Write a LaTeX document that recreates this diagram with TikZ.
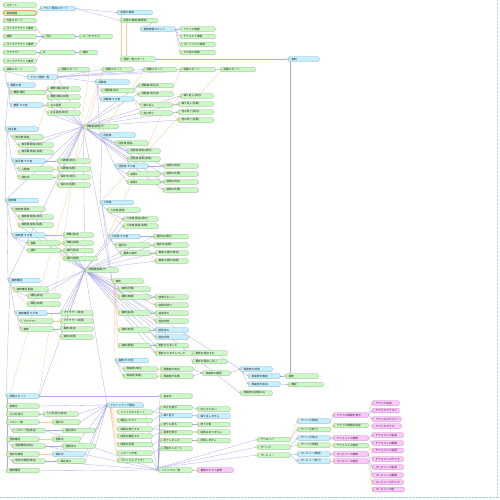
\documentclass[tikz,border=0pt]{standalone}
\usepackage{fontspec}
\newfontfamily\jp{Noto Sans CJK JP}
\usetikzlibrary{arrows.meta,shadows}
\definecolor{gF}{HTML}{CCF7C6}
\definecolor{gD}{HTML}{8DBF88}
\definecolor{cF}{HTML}{C6F0FF}
\definecolor{cD}{HTML}{7DB9D2}
\definecolor{pF}{HTML}{FFC6FF}
\definecolor{pD}{HTML}{CC82CC}
\definecolor{oD}{HTML}{EE8A33}
\definecolor{eB}{HTML}{9C9CF4}
\definecolor{eO}{HTML}{FFC48E}
\definecolor{dotY}{HTML}{E6C21E}
\pgfdeclarelayer{bg}
\pgfdeclarelayer{paper}
\pgfsetlayers{paper,bg,main}
\tikzset{
 box/.style={rectangle, rounded corners=1.2pt, minimum height=4.6pt, inner sep=0pt, line width=0.3pt,
   drop shadow={shadow xshift=0.45pt,shadow yshift=-0.45pt,opacity=0.22}},
 ng/.style={box, fill=gF, draw=gD},
 nc/.style={box, fill=cF, draw=cD},
 np/.style={box, fill=pF, draw=pD},
 no/.style={box, fill=gF, draw=oD, line width=0.7pt},
 lbl/.style={inner sep=0pt, font=\jp\fontsize{2.7}{3}\selectfont, text=black!85},
 eb/.style={draw=eB, draw opacity=0.85, line width=0.3pt, -{Stealth[length=1.6pt,width=1.3pt]}},
 eo/.style={draw=eO, draw opacity=0.9, line width=0.3pt, -{Stealth[length=1.6pt,width=1.3pt]}},
}
\newcommand\nd[6]{%
 \node[#5, minimum width=#4pt, anchor=west] (#1) at (#2,#3) {};%
 \node[lbl, anchor=west] (#1t) at ([xshift=3.3pt]#1.west) {#6};%
 \fill[dotY] ([xshift=1.6pt]#1.west) circle (0.75pt);%
}
\newcommand\ed[3][eb]{\draw[#1] (#2.east) -- (#3.west);}
\newcommand\tr[3][eb]{\draw[#1] ([xshift=2pt]#2.south west) -- (#3.west);}
\newcommand\grp[2]{%
 \tr{#10}{#11}\tr{#10}{#14}\tr{#11}{#12}\tr[eo]{#11}{#13}%
 \ed{#14}{#15}\tr{#14}{#16}\tr{#14}{#18}\ed[eo]{#16}{#17}\ed{#18}{#19}\ed[eo]{#18}{#110}%
 \foreach \r in {2,3,5,7,9,10}{\draw[eb] (#2.west) -- (#1\r.west);}%
}
\begin{document}
\begin{tikzpicture}[x=1pt,y=-1pt]
\useasboundingbox (0,0) rectangle (500,500);
\begin{pgfonlayer}{paper}
\fill[white] (0,0) rectangle (500,500);
\draw[densely dotted, line width=0.4pt, cD!70] (0,497.5) -- (500,497.5);
\draw[densely dotted, line width=0.4pt, cD!50] (497.5,0) -- (497.5,497.5);
\end{pgfonlayer}
% ---------- top ----------
\nd{a1}{3}{5}{33}{ng}{スタート}
\nd{a2}{3}{13}{33}{no}{初期画面}
\nd{a3}{3}{20.5}{33}{ng}{可能スタート}
\nd{a4}{3}{28.5}{33}{ng}{バックグラウンド接続}
\nd{a5}{3}{36.5}{33}{ng}{接続}
\nd{a6}{3}{44.5}{33}{ng}{バックグラウンド接続}
\nd{a7}{3}{52.5}{33}{ng}{ブラウザー}
\nd{a8}{3}{61}{33}{ng}{バックグラウンド接続}
\nd{b1}{40}{8.5}{35}{nc}{テスト環境スタート}
\nd{b2}{43}{36.5}{32}{ng}{回入}
\nd{b3}{79}{36.5}{33}{ng}{ループ(テスト)}
\nd{b4}{40}{52.5}{35}{ng}{B}
\nd{b5}{79}{52.5}{18}{ng}{接続}
\nd{c1}{117}{12.5}{35}{nc}{処理の接続}
\nd{c2}{120}{20.5}{37}{ng}{処理の接続(接続時)}
\nd{c3}{140}{29}{35}{nc}{接続情報のセット}
\nd{c4}{180}{29}{35}{ng}{アプリの情報}
\nd{c5}{180}{36.5}{35}{ng}{デフォルト情報}
\nd{c6}{180}{44.5}{35}{ng}{プレイリスト情報}
\nd{c7}{180}{52.5}{35}{ng}{その他の情報}
\nd{c8}{120}{59}{35}{ng}{登録一覧スタート}
\nd{c9}{288}{59}{31}{nc}{接続}
\nd{ts0}{3}{69}{33}{ng}{試験スタート}
\nd{ts1}{58}{69.5}{31}{ng}{試験スタート}
\nd{ts2}{102}{69.5}{31}{ng}{試験スタート}
\nd{ts3}{143}{69.5}{33}{ng}{試験スタート}
\nd{ts4}{180}{69.5}{35}{ng}{試験スタート}
\nd{ts5}{220}{69.5}{35}{ng}{試験スタート}
\nd{m0}{27}{77}{30}{nc}{テスト情報一覧}
% ---------- group A ----------
\nd{A0}{95}{82}{34}{nc}{試験後}
\nd{A1}{101}{90.5}{33}{ng}{試験後 成功}
\nd{A2}{138}{85.5}{35}{ng}{試験後 成功(A)}
\nd{A3}{138}{94}{35}{ng}{試験後 成功(B)}
\nd{A4}{100}{99}{33}{nc}{試験後 その他}
\nd{A5}{140}{105}{32}{ng}{繰り返し}
\nd{A6}{140}{113}{32}{ng}{他の終了}
\nd{A7}{180}{96}{33}{ng}{繰り返し(成功)}
\nd{A8}{178}{104}{35}{ng}{繰り返し(失敗)}
\nd{A9}{178}{112}{35}{ng}{他の終了(成功)}
\nd{A10}{178}{120}{35}{ng}{他の終了(失敗)}
% ---------- group B ----------
\nd{B0}{7}{85}{28}{nc}{概要の表}
\nd{B1}{10}{92.5}{35}{ng}{概要 開始}
\nd{B2}{47}{89}{33}{ng}{概要 開始(成功)}
\nd{B3}{47}{97}{33}{ng}{概要 開始(失敗)}
\nd{B4}{10}{105}{33}{nc}{概要 その他}
\nd{B5}{47}{105}{33}{ng}{主な選択}
\nd{B6}{47}{113}{33}{ng}{主な選択(成功)}
\nd{H1}{83}{126.5}{35}{ng}{試験前結果(ア)}
% ---------- group C ----------
\nd{C0}{5}{129}{33}{nc}{接手数}
\nd{C1}{12}{137}{31}{ng}{接手数 開始}
\nd{C2}{18}{145}{35}{ng}{接手数 開始(成功)}
\nd{C3}{18}{152}{35}{ng}{接手数 開始(失敗)}
\nd{C4}{12}{161}{33}{nc}{接手数 その他}
\nd{C5}{57}{161}{33}{ng}{入数値(成功)}
\nd{C6}{18}{169}{35}{ng}{入数値}
\nd{C7}{57}{169}{33}{ng}{入数値(失敗)}
\nd{C8}{18}{177}{35}{ng}{保存中}
\nd{C9}{57}{177}{33}{ng}{保存中(成功)}
\nd{C10}{57}{185}{33}{ng}{保存中(失敗)}
% ---------- group D ----------
\nd{D0}{100}{135}{35}{nc}{回答後}
\nd{D1}{115}{143}{33}{ng}{回答後 開始}
\nd{D2}{127}{151}{33}{ng}{回答後 開始(成功)}
\nd{D3}{127}{159}{33}{ng}{回答後 開始(失敗)}
\nd{D4}{115}{166}{33}{nc}{回答後 その他}
\nd{D5}{163}{166}{35}{ng}{結果1(成功)}
\nd{D6}{127}{174}{33}{ng}{結果1}
\nd{D7}{163}{174}{35}{ng}{結果1(失敗)}
\nd{D8}{127}{182}{33}{ng}{結果2}
\nd{D9}{163}{182}{35}{ng}{結果2(成功)}
\nd{D10}{163}{190}{35}{ng}{結果2(失敗)}
% ---------- group E ----------
\nd{E0}{5}{200.5}{33}{nc}{接続後}
\nd{E1}{12}{209}{33}{ng}{接続後 開始}
\nd{E2}{18}{217}{35}{ng}{接続後 開始(成功)}
\nd{E3}{18}{225}{35}{ng}{接続後 開始(失敗)}
\nd{E4}{12}{235}{33}{nc}{接続後 その他}
\nd{E5}{63}{235}{30}{ng}{移動(成功)}
\nd{E6}{27}{243}{33}{ng}{移動}
\nd{E7}{63}{243}{30}{ng}{移動(失敗)}
\nd{E8}{27}{250.5}{33}{ng}{操作}
\nd{E9}{63}{250.5}{30}{ng}{操作(成功)}
\nd{E10}{63}{258.5}{34}{ng}{操作(失敗)}
% ---------- group F ----------
\nd{F0}{100}{202.5}{33}{nc}{人気後}
\nd{F1}{107}{210}{33}{ng}{人気後 開始}
\nd{F2}{123}{219}{35}{ng}{人気後 開始(成功)}
\nd{F3}{123}{226}{35}{ng}{人気後 開始(失敗)}
\nd{F4}{108}{236.5}{32}{nc}{人気後 その他}
\nd{F5}{153}{236.5}{35}{ng}{選択中(成功)}
\nd{F6}{115}{245}{35}{ng}{選択中}
\nd{F7}{153}{245}{35}{ng}{選択中(失敗)}
\nd{F8}{120}{253}{30}{ng}{最後の操作}
\nd{F9}{155}{253}{33}{ng}{最後の操作(成功)}
\nd{F10}{155}{261}{33}{ng}{最後の操作(失敗)}
\nd{H2}{85}{270}{33}{ng}{試験後結果(ア)}
% ---------- group G ----------
\nd{G0}{8}{280.5}{32}{nc}{接続確認}
\nd{G1}{13}{289}{35}{ng}{接続確認 開始}
\nd{G2}{27}{296}{33}{ng}{開始(成功)}
\nd{G3}{27}{304}{33}{ng}{開始(失敗)}
\nd{G4}{15}{313}{32}{nc}{接続確認 その他}
\nd{G5}{60}{313}{33}{ng}{ブラウザー(成功)}
\nd{G6}{20}{321}{33}{ng}{ブラウザー}
\nd{G7}{60}{321}{33}{ng}{ブラウザー(失敗)}
\nd{G8}{20}{329}{33}{ng}{接続}
\nd{G9}{60}{329}{33}{ng}{接続(成功)}
\nd{G10}{60}{337}{33}{ng}{接続(失敗)}
% ---------- group K ----------
\nd{K0}{112}{281}{31}{ng}{接続}
\nd{K1}{118}{289}{32}{ng}{接続(行動)}
\nd{K2}{118}{297}{32}{ng}{接続(検索)}
\nd{K3}{155}{297}{33}{ng}{結果が正しい}
\nd{K4}{155}{305}{33}{ng}{結果が誤り}
\nd{K5}{118}{313}{32}{ng}{接続(追加)}
\nd{K6}{155}{313}{33}{ng}{追加済み}
\nd{K7}{155}{321}{33}{ng}{追加失敗}
\nd{K8}{118}{330}{32}{ng}{接続(削除)}
\nd{K9}{155}{330}{33}{nc}{削除済み}
\nd{K10}{155}{337}{33}{nc}{削除失敗}
\nd{K11}{118}{345.5}{32}{ng}{接続(更新)}
\nd{K12}{155}{345.5}{33}{ng}{更新されました}
\nd{K13}{155}{353}{37}{ng}{更新されませんでした}
\nd{K14}{192}{353}{35}{ng}{更新を保存する}
\nd{K15}{192}{361.5}{35}{ng}{更新を保存しない}
\nd{K16}{115}{360.5}{33}{nc}{接続(その他)}
\nd{K17}{123}{369}{34}{ng}{再接続(成功)}
\nd{K18}{160}{369}{33}{ng}{再接続が成功}
\nd{K19}{123}{376}{34}{ng}{再接続(失敗)}
\nd{K20}{160}{376}{33}{ng}{再接続が失敗}
\nd{K21}{202}{373}{28}{ng}{再接続の確認}
\nd{L1}{240}{369}{32}{nc}{再接続の結果}
\nd{L2}{248}{376}{32}{nc}{再接続を確定}
\nd{L3}{248}{384}{32}{nc}{再接続を取消}
\nd{L4}{240}{393}{32}{ng}{再接続の結果(NG)}
\nd{L5}{285}{376}{33}{ng}{接続}
\nd{L6}{288}{384.5}{35}{ng}{確定}
% ---------- bottom left ----------
\nd{P0}{6}{396}{33}{nc}{試験スタート}
\nd{P1}{160}{396}{32}{ng}{追加中}
\nd{P2}{6}{406}{33}{ng}{初期化}
\nd{H3}{107}{405}{36}{nc}{テストシナリオ開始}
\nd{P3}{6}{414}{33}{ng}{入力を受付}
\nd{P4}{43}{414}{35}{ng}{入力を受付(成功)}
\nd{P5}{6}{422}{33}{ng}{リスト一覧}
\nd{P6}{52}{422}{28}{ng}{選択中}
\nd{P7}{12}{430.5}{33}{ng}{リスト一覧(成功)}
\nd{P8}{62}{430.5}{33}{ng}{選択済み}
\nd{P9}{6}{439}{33}{ng}{登録確認}
\nd{P10}{52}{439}{28}{ng}{登録中}
\nd{P11}{12}{446}{33}{ng}{登録確認(成功)}
\nd{P12}{62}{446}{33}{ng}{登録済み}
\nd{P13}{6}{454}{33}{ng}{保存を確認}
\nd{P14}{52}{454}{33}{nc}{保存中}
\nd{P15}{12}{461}{33}{ng}{保存を確認(成功)}
\nd{P16}{57}{461}{28}{ng}{保存済み}
\nd{P17}{6}{470.5}{33}{ng}{接続確認}
% ---------- bottom middle ----------
\nd{Q1}{117}{412}{35}{ng}{シナリオのスタート}
\nd{Q2}{117}{420.5}{35}{ng}{繰返しテスト}
\nd{Q3}{117}{429}{35}{ng}{試験を実行する}
\nd{Q4}{117}{436}{35}{ng}{結果を確認する}
\nd{Q5}{117}{444.5}{35}{ng}{結果を記録}
\nd{Q6}{117}{453}{35}{ng}{レポート作成}
\nd{Q7}{117}{460.5}{35}{ng}{リセット(シナリオ)}
\nd{R1}{160}{407.5}{32}{ng}{中止を指示}
\nd{R2}{160}{415.5}{32}{nc}{繰り返す}
\nd{R3}{160}{424.5}{32}{ng}{終了に戻る}
\nd{R4}{160}{432.5}{32}{ng}{結果を表示}
\nd{R5}{160}{440.5}{32}{ng}{終了しました}
\nd{R6}{160}{448.5}{32}{ng}{記録のレポート}
\nd{S1}{197}{409}{33}{ng}{中止されない}
\nd{S2}{197}{416}{33}{nc}{繰り返しません}
\nd{S3}{197}{424.5}{33}{ng}{終了の後}
\nd{S4}{197}{432}{33}{ng}{結果はありません}
\nd{S5}{197}{440.5}{33}{ng}{記録しません}
\nd{H4}{158}{470}{34}{ng}{シナリオの一覧}
\nd{H5}{197}{470}{36}{np}{最後のテスト結果}
% ---------- bottom right ----------
\nd{T1}{257}{439.5}{33}{ng}{デベロッパ}
\nd{T2}{257}{447}{33}{ng}{デバッグ}
\nd{T3}{257}{455}{33}{ng}{プレビュー}
\nd{U1}{297}{421}{33}{nc}{デバッグ(開始)}
\nd{U2}{297}{429.5}{33}{ng}{デバッグ(終了)}
\nd{U3}{297}{438}{33}{nc}{デバッグ(停止)}
\nd{U4}{297}{445}{33}{ng}{デバッグ(再開)}
\nd{U5}{297}{454}{33}{nc}{プレビュー(開始)}
\nd{U6}{297}{461}{33}{nc}{プレビュー(終了)}
\nd{V1}{333}{415}{35}{np}{アプリの情報を表示}
\nd{V2}{333}{425.5}{35}{ng}{アプリの情報を保存}
\nd{V3}{333}{438}{35}{np}{デフォルトの情報}
\nd{V4}{333}{445.5}{35}{ng}{デフォルトの保存}
\nd{V5}{333}{454}{35}{np}{プレビューの情報}
\nd{V6}{333}{461}{35}{np}{プレビューの保存}
\nd{W1}{372}{403}{27}{np}{アプリの名前}
\nd{W2}{372}{410.5}{27}{np}{アプリのアイコン}
\nd{W3}{372}{419}{29}{np}{アプリのカテゴリー}
\nd{W4}{372}{426}{29}{np}{アプリのサイズ}
\nd{W5}{372}{435}{31}{np}{デフォルトの名前}
\nd{W6}{372}{443}{31}{np}{デフォルトの画像}
\nd{W7}{372}{450.5}{31}{np}{デフォルトの言語}
\nd{W8}{372}{459}{31}{np}{デフォルトのサイズ}
\nd{W9}{372}{467}{31}{np}{プレビューの名前}
\nd{W10}{372}{475}{31}{np}{プレビューの画像}
\nd{W11}{372}{482}{31}{np}{プレビューのサイズ}
\nd{W12}{372}{489.5}{32}{np}{プレビューの色}
% ================= connectors =================
\begin{pgfonlayer}{bg}
\ed{a2}{b1}\ed{b1}{c1}\ed{b1}{c2}\ed{c2}{c3}
\foreach \t in {c4,c5,c6,c7}{\ed{c3}{\t}}
\ed{a4}{b2}\ed{a5}{b2}\ed{a6}{b2}\ed{b2}{b3}
\ed{a7}{b4}\ed{a8}{b4}\ed{b4}{b5}
\draw[eo] ([xshift=4pt]c1.south west) -- ([xshift=4pt]c1.south west |- c8.north);
\draw[eo] ([xshift=6pt]c2.south west) -- ([xshift=6pt]c2.south west |- c8.north);
\ed{c8}{c9}
\draw[eb] ([xshift=2.5pt]c9.south west) -- ([xshift=2.5pt]c9.south west |- L5.north);
\tr{ts0}{m0}
\foreach \t in {ts1,ts2,ts3,ts4,ts5}{\draw[eb] (m0.east) -- (\t.west);}
\ed{m0}{A0}
\draw[eb] (m0.east) -- (H1.west);
\tr{ts0}{B0}\tr{B0}{C0}\tr{C0}{E0}\tr{E0}{G0}\tr{G0}{P0}
\tr{D0}{F0}\tr{F0}{K0}\tr{A0}{D0}
% group A
\tr{A0}{A1}\tr{A0}{A4}\ed{A1}{A2}\ed[eo]{A1}{A3}\ed{A4}{A5}\ed[eo]{A4}{A6}
\ed[eo]{A5}{A7}\ed{A5}{A8}\ed{A6}{A9}\ed[eo]{A6}{A10}
\foreach \r in {A2,A3,A7,A8,A9,A10}{\draw[eb] (H1.west) -- (\r.west);}
% group B
\tr{B0}{B1}\tr{B0}{B4}\ed{B1}{B2}\ed[eo]{B1}{B3}\ed{B4}{B5}\ed[eo]{B4}{B6}
\foreach \r in {B2,B3,B5,B6}{\draw[eb] (H1.west) -- (\r.west);}
\grp{C}{H1}
\grp{D}{H1}
\grp{E}{H2}
\grp{F}{H2}
\grp{G}{H2}
\draw[eb] (H1.west) -- (H2.west);
\draw[eb] (H1.west) -- (E0.west);
\draw[eb] (H1.west) -- (G0.west);
\draw[eb] (H1.west) -- (K0.west);
% group K
\foreach \k in {K1,K2,K5,K8,K11,K16}{\draw[eo] ([xshift=2pt]K0.south west) -- (\k.west);}
\ed{K2}{K3}\ed[eo]{K2}{K4}\ed{K5}{K6}\ed[eo]{K5}{K7}\ed{K8}{K9}\ed[eo]{K8}{K10}
\ed{K11}{K12}\ed[eo]{K11}{K13}\ed{K13}{K14}\ed[eo]{K12}{K15}
\tr{K16}{K17}\tr{K16}{K19}\ed[eo]{K17}{K18}\ed[eo]{K19}{K20}\ed{K18}{K21}\ed{K20}{K21}
\ed{K21}{L1}
\foreach \r in {K1,K3,K4,K6,K7,K9,K10,K12,K13}{\draw[eb] (H2.west) -- (\r.west);}
\draw[eb] (H2.west) -- (L1.west);
\draw[eb] (H2.west) -- (L4.west);
\tr{L1}{L2}\tr{L1}{L3}\ed{L2}{L5}\ed{L3}{L6}
\draw[eb] (H2.west) -- (H3.west);
\draw[eb] (H2.west) -- (P0.east);
% bottom left
\ed{P0}{P1}
\draw[eb] ([xshift=1.5pt]P0.south west) -- ([xshift=1.5pt]P17.north west);
\tr{P5}{P7}\tr{P9}{P11}\tr{P13}{P15}
\ed{P3}{P4}\ed[eo]{P5}{P6}\ed{P7}{P8}\ed[eo]{P9}{P10}\ed{P11}{P12}\ed[eo]{P13}{P14}\ed{P15}{P16}
\foreach \r in {P2,P4,P6,P8,P10,P12,P14,P16}{\draw[eb] (\r.east) -- (H3.west);}
\foreach \q in {Q1,Q2,Q3,Q4,Q5,Q6,Q7}{\draw[eo] ([xshift=3pt]H3.south west) -- (\q.west);}
\ed{Q1}{R1}\ed{Q2}{R2}\ed{Q3}{R3}\ed{Q4}{R4}\ed{Q5}{R5}\ed{Q6}{R6}
\ed{R1}{S1}\ed[eo]{R2}{S2}\ed{R3}{S3}\ed[eo]{R4}{S4}\ed{R5}{S5}
\ed{Q1}{S2}\ed{Q3}{S4}
\draw[eb] (P17.east) -- (H4.west);
\draw[eb] (H3.east) -- (H4.west);
\foreach \r in {P1,R1,R2,R3,R4,R5,R6}{\draw[eb] (\r.west) -- (H4.west);}
\foreach \r in {P7,P11,P15,Q7}{\draw[eb] (\r.east) -- (H4.west);}
\ed[eo]{H4}{H5}
\foreach \t in {T1,T2,T3}{\draw[eb] ([xshift=2pt]H4.north west) -- (\t.west);}
\ed[eo]{T1}{U1}\ed{T1}{U2}\ed{T2}{U3}\ed[eo]{T2}{U4}\ed{T3}{U5}\ed{T3}{U6}
\ed{U1}{V1}\ed[eo]{U2}{V2}\ed{U3}{V3}\ed[eo]{U4}{V4}\ed{U5}{V5}\ed[eo]{U6}{V6}
\foreach \w in {W1,W2,W3}{\ed{V1}{\w}}
\ed[eo]{V2}{W4}
\foreach \w in {W5,W6}{\ed{V3}{\w}}
\foreach \w in {W7,W8}{\ed[eo]{V4}{\w}}
\foreach \w in {W9,W10}{\ed{V5}{\w}}
\foreach \w in {W11,W12}{\ed[eo]{V6}{\w}}
% long orange connectors
\draw[eo] ([xshift=4pt]P0.north west) -- ([xshift=1pt]ts2.south west);
\draw[eo] (P0.north east) -- (ts1.south east);
\draw[eo] (ts5.south west) -- (F0.west);
\draw[eo] (ts4.south west) -- (F4.west);
\draw[eo] (ts3.south west) -- (D0.west);
\draw[eo] (ts2.south west) -- (H1.west);
\draw[eo] (ts1.south west) -- (C0.east);
\end{pgfonlayer}
\end{tikzpicture}
\end{document}
